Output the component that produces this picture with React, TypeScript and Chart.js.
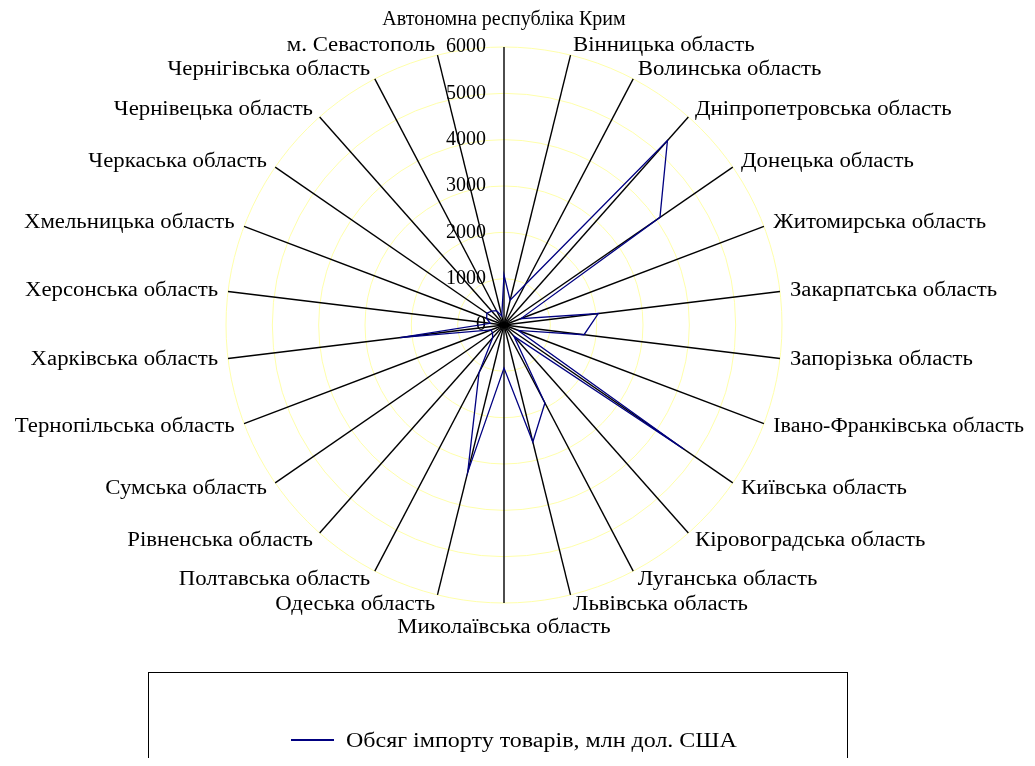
import React, { useEffect, useRef } from 'react';
import { Chart, registerables, RadialLinearScale } from 'chart.js';

Chart.register(...registerables);

const categories = [
  'Автономна республіка Крим',
  'Вінницька область',
  'Волинська область',
  'Дніпропетровська область',
  'Донецька область',
  'Житомирська область',
  'Закарпатська область',
  'Запорізька область',
  'Івано-Франківська область',
  'Київська область',
  'Кіровоградська область',
  'Луганська область',
  'Львівська область',
  'Миколаївська область',
  'Одеська область',
  'Полтавська область',
  'Рівненська область',
  'Сумська область',
  'Тернопільська область',
  'Харківська область',
  'Херсонська область',
  'Хмельницька область',
  'Черкаська область',
  'Чернівецька область',
  'Чернігівська область',
  'м. Севастополь',
];

const importValues = [
  1080, 550, 980, 5320, 4090, 390, 2050, 1740, 330, 4720, 320, 1900, 2600,
  930, 3270, 1160, 370, 300, 300, 2260, 300, 400, 450, 400, 350, 200,
];

const tickValues = [0, 1000, 2000, 3000, 4000, 5000, 6000];
const seriesLabel = 'Обсяг імпорту товарів, млн дол. США';

const FONT = '"Liberation Serif", "Times New Roman", serif';
const FONT_SIZE = 20;
const LABEL_STRETCH = 1.14;
const CX = 496;
const CY = 317;
const RADIUS = 278;

class FixedRadialScale extends RadialLinearScale {
  static id = 'fixedRadial';
  setCenterPoint() {
    this.xCenter = CX;
    this.yCenter = CY;
    this.drawingArea = RADIUS;
  }
}
Chart.register(FixedRadialScale);

const textPlugin = {
  id: 'textOverlay',
  beforeDatasetsDraw(chart: any) {
    const scale = chart.scales.r;
    const ctx = chart.ctx;
    const W = chart.width;
    ctx.save();
    ctx.font = `${FONT_SIZE}px ${FONT}`;
    ctx.fillStyle = '#000';
    ctx.textAlign = 'right';
    ctx.textBaseline = 'middle';
    tickValues.forEach((v) => {
      const d = scale.getDistanceFromCenterForValue(v);
      ctx.fillText(String(v), scale.xCenter - 18, scale.yCenter - d);
    });
    const n = categories.length;
    categories.forEach((c, i) => {
      const deg = (i * 360) / n;
      let pad = 10;
      const isTop = i === 0;
      const isBottom = Math.abs(deg - 180) < 0.01;
      if (isTop) pad = 27;
      if (isBottom) pad = 25;
      const p = scale.getPointPosition(i, scale.drawingArea + pad);
      const sx = isTop ? 1 : LABEL_STRETCH;
      let maxW = 2000;
      if (isTop || isBottom) ctx.textAlign = 'center';
      else if (deg < 180) {
        ctx.textAlign = 'left';
        maxW = (W - 3 - p.x) / sx;
      } else {
        ctx.textAlign = 'right';
        maxW = (p.x - 3) / sx;
      }
      ctx.save();
      ctx.translate(p.x, p.y);
      ctx.scale(sx, 1);
      ctx.fillText(c, 0, 0, maxW);
      ctx.restore();
    });
    ctx.restore();
  },
};

export default function App() {
  const ref = useRef<HTMLCanvasElement | null>(null);
  useEffect(() => {
    if (!ref.current) return;
    const chart = new Chart(ref.current, {
      type: 'radar',
      data: {
        labels: categories,
        datasets: [
          {
            label: seriesLabel,
            data: importValues,
            borderColor: '#000080',
            backgroundColor: 'rgba(0,0,0,0)',
            borderWidth: 1.3,
            pointRadius: 0,
            fill: false,
            tension: 0,
          },
        ],
      },
      options: {
        animation: false,
        responsive: true,
        maintainAspectRatio: false,
        layout: { padding: 0 },
        plugins: {
          legend: { display: false },
          tooltip: { enabled: false },
        },
        scales: {
          r: {
            type: 'fixedRadial' as any,
            min: 0,
            max: 6000,
            ticks: { display: false, stepSize: 1000 },
            grid: { circular: true, color: 'rgb(255,255,170)', lineWidth: 1 },
            angleLines: { display: true, color: '#000', lineWidth: 1.4 },
            pointLabels: { display: false },
          },
        },
      },
      plugins: [textPlugin],
    });
    return () => chart.destroy();
  }, []);

  return (
    <div style={{ position: 'relative', width: 1019, height: 750, overflow: 'hidden' }}>
      <canvas ref={ref} />
      <div
        style={{
          position: 'absolute',
          left: 140,
          top: 664,
          width: 700,
          height: 200,
          border: '1px solid #000',
          boxSizing: 'border-box',
          fontFamily: FONT,
          fontSize: FONT_SIZE,
        }}
      >
        <div style={{ position: 'absolute', left: 142, top: 66, width: 43, height: 2, background: '#000080' }} />
        <div
          style={{
            position: 'absolute',
            left: 197,
            top: 55,
            whiteSpace: 'nowrap',
            lineHeight: '24px',
            transform: 'scaleX(1.2)',
            transformOrigin: 'left center',
          }}
        >
          {seriesLabel}
        </div>
      </div>
    </div>
  );
}
